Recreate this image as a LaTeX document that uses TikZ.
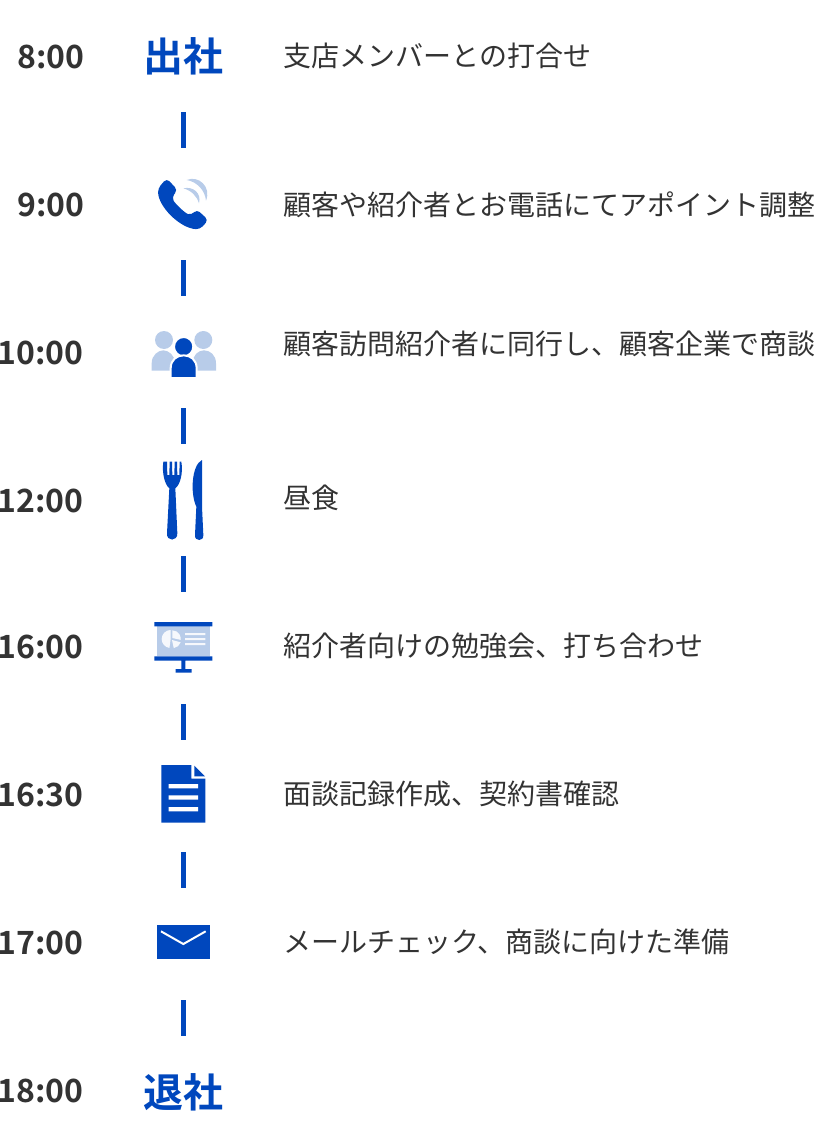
\documentclass[tikz,border=0pt]{standalone}
\usepackage{fontspec}
\setmainfont{Noto Sans CJK JP}
\newfontfamily\jpbold{Noto Sans CJK JP Bold}
\definecolor{brandblue}{HTML}{0047BD}
\definecolor{lightblue}{HTML}{B8CCE9}
\definecolor{inktext}{HTML}{333333}
\tikzset{
  timelabel/.style={anchor=base east,inner sep=0pt,text=inktext,font=\jpbold\fontsize{24pt}{24pt}\selectfont},
  tasklabel/.style={anchor=base west,inner sep=0pt,text=inktext,font=\fontsize{21pt}{21pt}\selectfont},
  iconslot/.style={inner sep=0pt,minimum width=2pt,minimum height=84pt,text=brandblue,font=\jpbold\fontsize{30pt}{30pt}\selectfont},
  linkbar/.style={draw=brandblue,line width=3.4pt},
  zoomed/.style={x=0.25pt,y=-0.25pt}
}
\begin{document}
\begin{tikzpicture}[x=0.75pt,y=-0.75pt]
\useasboundingbox (0,0) rectangle (815,1148);
% icon slots
\node[iconslot] (s1) at (183.5,56) {出社};
\node[iconslot] (s2) at (183.5,204) {};
\node[iconslot] (s3) at (183.5,352) {};
\node[iconslot] (s4) at (183.5,500) {};
\node[iconslot] (s5) at (183.5,648) {};
\node[iconslot] (s6) at (183.5,796) {};
\node[iconslot] (s7) at (183.5,944) {};
\node[iconslot] (s8) at (183.5,1092) {退社};
\foreach \a/\b in {s1/s2,s2/s3,s3/s4,s4/s5,s5/s6,s6/s7,s7/s8} \draw[linkbar] (\a) -- (\b);
% times
\node[timelabel] (t1) at (85,69) {8:00};
\node[timelabel] (t2) at (84.5,217) {9:00};
\node[timelabel] (t3) at (83.7,364) {10:00};
\node[timelabel] (t4) at (83.7,512) {12:00};
\node[timelabel] (t5) at (83.7,658) {16:00};
\node[timelabel] (t6) at (83.7,806) {16:30};
\node[timelabel] (t7) at (83.7,954) {17:00};
\node[timelabel] (t8) at (83.7,1102) {18:00};
% tasks
\node[tasklabel] (d1) at (283.7,67) {支店メンバーとの打合せ};
\node[tasklabel] (d2) at (283.7,215) {顧客や紹介者とお電話にてアポイント調整};
\node[tasklabel] (d3) at (283.7,354) {顧客訪問紹介者に同行し、顧客企業で商談};
\node[tasklabel] (d4) at (283.7,508) {昼食};
\node[tasklabel] (d5) at (283.7,656) {紹介者向けの勉強会、打ち合わせ};
\node[tasklabel] (d6) at (283.7,804) {面談記録作成、契約書確認};
\node[tasklabel] (d7) at (283.7,952) {メールチェック、商談に向けた準備};
% phone + people
\begin{scope}[shift={(130,160)},zoomed]
\fill[brandblue,rounded corners=3pt] (110,55) -- (143,90) -- (125,112) .. controls (135,130) and (165,160) .. (186,165) -- (200,148) -- (235,180) -- (210,208) .. controls (150,205) and (85,140) .. (84,85) -- cycle;
\fill[lightblue] (170,60) .. controls (205,45) and (245,80) .. (228,122) .. controls (225,90) and (200,65) .. (170,60) -- cycle;
\fill[lightblue] (160,85) .. controls (190,78) and (215,100) .. (207,130) .. controls (200,108) and (185,92) .. (160,85) -- cycle;
\fill[lightblue] (102,540) circle[radius=27] (220,540) circle[radius=27];
\fill[lightblue] (65,632) -- (65,610) .. controls (65,585) and (85,571) .. (100,571) .. controls (115,571) and (135,585) .. (135,610) -- (135,632) -- cycle;
\fill[lightblue] (188,632) -- (188,610) .. controls (188,585) and (205,571) .. (222,571) .. controls (240,571) and (258,585) .. (258,610) -- (258,632) -- cycle;
\filldraw[brandblue,draw=white,line width=1.5pt] (161,560) circle[radius=29];
\filldraw[brandblue,draw=white,line width=1.5pt] (122,654) -- (122,625) .. controls (122,600) and (140,586) .. (161,586) .. controls (182,586) and (200,600) .. (200,625) -- (200,654) -- cycle;
\end{scope}
% fork + knife + board
\begin{scope}[shift={(130,450)},zoomed]
\fill[brandblue] (100,35) .. controls (95,70) and (105,105) .. (118,115) -- (111,250) .. controls (109,275) and (143,275) .. (142,250) -- (136,115) .. controls (150,105) and (160,70) .. (154,35) -- (149,35) -- (148,75) -- (142,75) -- (141,35) -- (134,35) -- (133,75) -- (127,75) -- (126,35) -- (119,35) -- (118,75) -- (112,75) -- (111,35) -- cycle;
\fill[brandblue] (216,30) -- (216,170) -- (220,255) .. controls (222,275) and (193,275) .. (195,255) -- (199,170) .. controls (180,130) and (185,45) .. (216,30) -- cycle;
\fill[lightblue] (80,529) rectangle (240,619);
\fill[brandblue] (73,516) rectangle (247,529) (73,619) rectangle (247,632) (154,632) rectangle (166,660) (137,657) rectangle (185,668);
% pie: sweeps are written for the flipped y axis of this scope
\fill[white,opacity=.88] (122,567) -- (122,540) arc[start angle=-90,end angle=-262,radius=27] -- cycle;
\fill[white,opacity=.88] (127,564) -- (127,541) arc[start angle=-90,end angle=8,radius=25] -- cycle;
\fill[white,opacity=.88] (126,570) -- (152,577) arc[start angle=20,end angle=80,radius=27] -- cycle;
\fill[white,opacity=.88] (165,549) rectangle (226,555) (165,564) rectangle (226,570) (165,579) rectangle (226,585);
\end{scope}
% document + mail
\begin{scope}[shift={(130,750)},zoomed]
\fill[brandblue] (94,45) -- (184,45) -- (184,86) -- (226,86) -- (226,218) -- (94,218) -- cycle;
\fill[brandblue] (193,47) -- (225,79) -- (193,79) -- cycle;
\fill[white] (116,102) rectangle (204,115) (116,136) rectangle (204,149) (116,171) rectangle (204,184);
\fill[brandblue] (81,524) rectangle (239,628);
\draw[white,line width=1.5pt] (93,544) -- (160,582) -- (227,544);
\end{scope}
\end{tikzpicture}
\end{document}
